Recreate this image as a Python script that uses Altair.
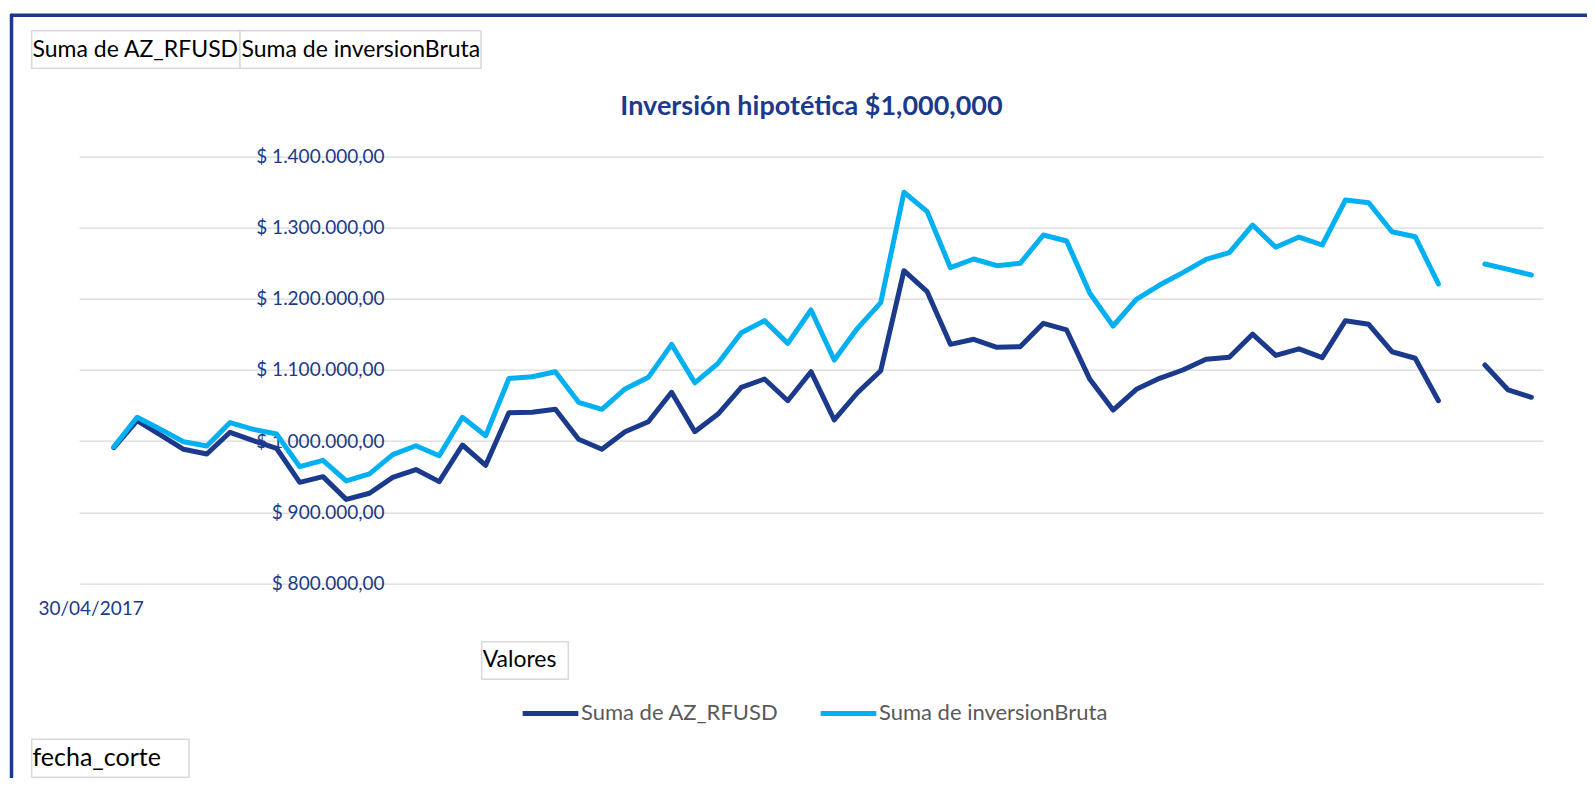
import altair as alt
import pandas as pd

NAVY = "#1B3A8C"
LIGHT = "#00B0F0"
FONT = "Lato"

# Categories: month-end cut dates (fecha_corte), first category 30/04/2017
fechas = [d.strftime("%d/%m/%Y") for d in (pd.date_range("2017-05-01", periods=63, freq="MS") - pd.Timedelta(days=1))]

series_names = ["Suma de AZ_RFUSD", "Suma de inversionBruta"]

az_rfusd = [None,
    990700, 1028700, 1008600, 988500, 981900, 1012400, 1000600, 989900, 942000, 950000,
    918000, 926600, 949000, 960000, 943000, 994500, 966000, 1040000, 1040500, 1044700,
    1002500, 988500, 1013200, 1027300, 1068600, 1013200, 1038000, 1075600, 1087300, 1056800,
    1097600, 1029700, 1068000, 1099000, 1239700, 1210100, 1136100, 1143200, 1131900, 1132800,
    1165700, 1156300, 1086900, 1043700, 1072900, 1088300, 1100000, 1115000, 1117900, 1150400,
    1120500, 1129800, 1117300, 1169400, 1164300, 1125700, 1116500, 1056800, None, 1107000,
    1071900, 1061600]

inversion_bruta = [None,
    992000, 1033500, 1016600, 999000, 993000, 1026000, 1016600, 1010000, 964000, 973000,
    944000, 954000, 981000, 993500, 979500, 1033500, 1007600, 1088000, 1090600, 1097600,
    1054500, 1044700, 1073300, 1089700, 1136000, 1082000, 1109400, 1152500, 1169400, 1137500,
    1184400, 1114000, 1158600, 1194700, 1350000, 1322700, 1243900, 1256100, 1246700, 1250000,
    1289900, 1281400, 1207900, 1161900, 1199400, 1219500, 1236900, 1255700, 1265000, 1303900,
    1272600, 1287000, 1275800, 1339100, 1335300, 1294500, 1287500, 1221000, None, 1249100,
    1241600, 1233600]

y_ticks = [800000, 900000, 1000000, 1100000, 1200000, 1300000, 1400000]

titulo = "Inversión hipotética $1,000,000"

df = pd.DataFrame({
    "fecha": fechas * 2,
    "serie": [series_names[0]] * len(fechas) + [series_names[1]] * len(fechas),
    "valor": az_rfusd + inversion_bruta,
})

label_expr = ("'$ ' + replace(replace(replace(format(datum.value, ',.2f'), regexp(',', 'g'), '_'), "
              "'.', ','), regexp('_', 'g'), '.')")

lines = alt.Chart(df).mark_line(strokeWidth=5, strokeCap="round", strokeJoin="round").encode(
    x=alt.X("fecha:O", sort=None, scale=alt.Scale(domain=fechas),
            axis=alt.Axis(values=[fechas[0]], title=None, labelAngle=0, domain=False, ticks=False,
                          grid=False, labelFont=FONT, labelFontSize=19, labelColor=NAVY,
                          labelPadding=16)),
    y=alt.Y("valor:Q", scale=alt.Scale(domain=[800000, 1400000], nice=False, zero=False),
            axis=alt.Axis(values=y_ticks, title=None, domain=False, ticks=False, tickSize=0,
                          labelPadding=-305, labelAlign="right", labelBaseline="middle",
                          labelExpr=label_expr, labelFont=FONT, labelFontSize=19, labelColor=NAVY,
                          gridColor="#D9D9D9", gridWidth=1.3)),
    color=alt.Color("serie:N", scale=alt.Scale(domain=series_names, range=[NAVY, LIGHT]),
                    legend=alt.Legend(title=None, orient="none", legendX=441, legendY=526,
                                      direction="horizontal", symbolType="stroke", symbolSize=3102,
                                      symbolStrokeWidth=5, labelFont=FONT, labelFontSize=22,
                                      labelColor="#595959", labelOffset=0, columnPadding=31,
                                      labelLimit=400, padding=0)),
)

one = pd.DataFrame({"a": [0]})


def rule(x1, x2, y1, y2, color, width):
    return alt.Chart(one).mark_rule(color=color, strokeWidth=width).encode(
        x=alt.value(x1), x2=alt.value(x2), y=alt.value(y1), y2=alt.value(y2))


def box(x1, x2, y1, y2):
    return alt.Chart(one).mark_rect(fill="white", stroke="#D9D9D9", strokeWidth=1.5).encode(
        x=alt.value(x1), x2=alt.value(x2), y=alt.value(y1), y2=alt.value(y2))


def label(txt, x, y, size, color="black", weight="normal", align="left"):
    return alt.Chart(one).mark_text(text=txt, align=align, baseline="middle", font=FONT,
                                    fontSize=size, color=color, fontWeight=weight).encode(
        x=alt.value(x), y=alt.value(y))


decor = [
    rule(-68, 1520, -141.5, -141.5, NAVY, 3.5),
    rule(-67.5, -67.5, -143, 625, NAVY, 3.5),
    box(-47.3, 161, -126, -88.4),
    box(161, 402, -126, -88.4),
    label("Suma de AZ_RFUSD", -46.5, -107, 23),
    label("Suma de inversionBruta", 162.5, -107, 23),
    label(titulo, 732.5, -49.5, 27, color=NAVY, weight="bold", align="center"),
    box(402.7, 489.3, 485, 522.6),
    label("Valores", 403.7, 503.8, 23),
    box(-47.3, 110, 582.6, 620.6),
    label("fecha_corte", -46.5, 601.6, 25),
]

chart = alt.layer(lines, *decor).properties(
    width=1464,
    height=426.6,
    background="white",
    autosize=alt.AutoSizeParams(type="none"),
    padding={"left": 71, "top": 148.7, "right": 44, "bottom": 195},
).configure_view(strokeWidth=0)

chart.save("out.html", embed_options={"renderer": "svg", "actions": False})
